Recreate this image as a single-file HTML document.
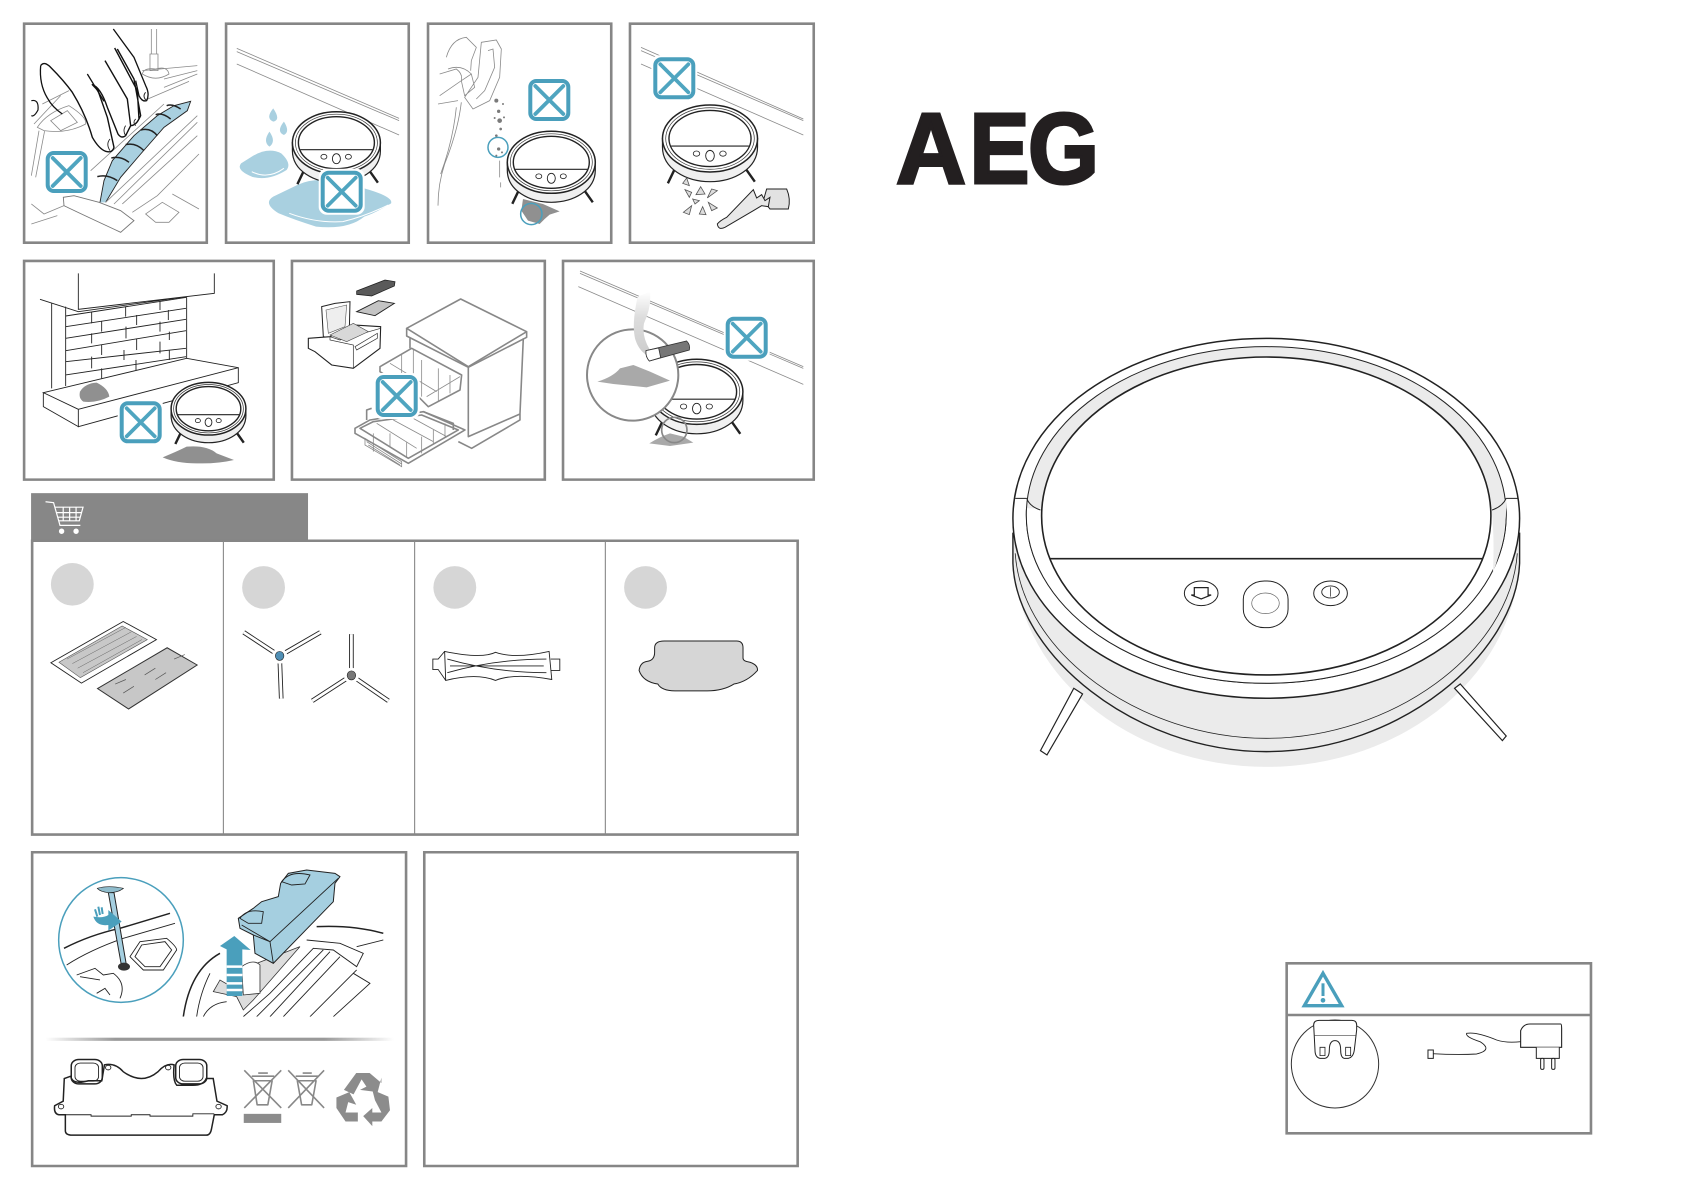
<!DOCTYPE html>
<html><head><meta charset="utf-8"><style>
html,body{margin:0;padding:0;background:#fff}
svg{display:block}
svg *{vector-effect:non-scaling-stroke}
.f{fill:none;stroke:#868686;stroke-width:2.6}
.k{fill:none;stroke:#222;stroke-width:.9}
.K{fill:none;stroke:#222;stroke-width:1.5}
.h{fill:#fff;stroke:#111;stroke-width:1.4;stroke-linejoin:round}
.g{fill:none;stroke:#8a8a8a;stroke-width:.8}
.l{fill:none;stroke:#555;stroke-width:.6}
.G{fill:none;stroke:#888;stroke-width:1.6;stroke-linejoin:round}
.s{fill:#ddd;stroke:#555;stroke-width:.8}
.tl{fill:#a9d0e0;stroke:none}
.b{fill:#a5cfe0;stroke:#222;stroke-width:1}
.d{fill:#909090;stroke:none}
</style></head><body>
<svg width="1684" height="1191" viewBox="0 0 1684 1191" xmlns="http://www.w3.org/2000/svg">
<defs>
<g id="x"><rect x="-23" y="-23" width="46" height="46" rx="8" fill="#fff"/><rect x="-19" y="-19" width="38" height="38" rx="6" fill="#fff" stroke="#4a9fbc" stroke-width="4"/><path d="M-14 -14L14 14M14 -14L-14 14" stroke="#4fa5c0" stroke-width="3.8" stroke-linecap="round" fill="none"/></g>
<g id="r">
<path d="M-39 41.5L-33 29M41.5 40L33 28" stroke="#222" stroke-width="2.4" fill="none"/>
<path d="M-44 0L-44 8C-44 28 -22 40 0 40C22 40 44 28 44 8L44 0Z" fill="#f0f0f0" stroke="#222" stroke-width="1.2"/>
<ellipse cx="0" cy="0" rx="44" ry="31" fill="#fff" stroke="#222" stroke-width="1.5"/>
<ellipse cx="0" cy="0" rx="41" ry="28.5" fill="#fff" stroke="#333" stroke-width=".7"/>
<ellipse cx="0" cy="0" rx="38" ry="26" fill="#fff" stroke="#222" stroke-width="1.4"/>
<path d="M-36 7H36" stroke="#222" stroke-width="1.1"/>
<ellipse cx="-12.5" cy="14" rx="3" ry="2.4" fill="#fff" stroke="#222" stroke-width=".8"/>
<ellipse cx="12" cy="14" rx="3" ry="2.4" fill="#fff" stroke="#222" stroke-width=".8"/>
<ellipse cx="0" cy="16" rx="4" ry="5" fill="#fff" stroke="#222" stroke-width=".9"/>
</g>
<linearGradient id="fd"><stop offset="0" stop-color="#fff"/><stop offset=".2" stop-color="#999"/><stop offset=".8" stop-color="#999"/><stop offset="1" stop-color="#fff"/></linearGradient>
<linearGradient id="sm" x1="0" y1="0" x2="0" y2="1"><stop offset="0" stop-color="#fff"/><stop offset=".4" stop-color="#ddd"/><stop offset="1" stop-color="#ccc"/></linearGradient>
<clipPath id="cb"><rect x="380" y="0" width="680" height="470"/></clipPath>
</defs>

<!-- FRAMES -->
<g transform="scale(.5357,.3333)">
<rect class="f" x="45" y="71" width="341" height="657"/>
<rect class="f" x="422" y="71" width="341" height="657"/>
<rect class="f" x="799" y="71" width="342" height="657"/>
<rect class="f" x="1176" y="71" width="343" height="657"/>
<rect class="f" x="45" y="783" width="466" height="656"/>
<rect class="f" x="545" y="783" width="472" height="656"/>
<rect class="f" x="1051" y="783" width="468" height="656"/>
</g>

<!-- P1 -->
<g transform="translate(24,24) scale(.3333)">
<path class="g" d="M382 15V90M398 15V90M378 90H402V140H378ZM355 150Q395 175 435 150Q430 125 395 135Q360 130 355 150ZM355 140L520 125M420 165L520 140M360 230L495 172M420 190L520 150"/>
<path class="g" d="M40 310Q70 265 135 245Q190 280 185 300Q130 330 60 320ZM55 240L135 200M30 300L110 215M45 320L22 455M62 320L35 460M22 540L60 570L120 545M22 600L100 575M80 290L130 260L160 295L110 320Z"/>
<path class="tl" d="M228 535L240 470L265 410L330 335L400 275L450 245L500 232L490 260L420 310L350 390L290 460L245 535Z"/>
<path class="k" d="M228 535L240 470L265 410L330 335L400 275L450 245L500 232L490 260L420 310L350 390L290 460L245 535"/>
<path class="K" d="M220 458Q250 450 280 470M262 402Q290 395 315 415M305 362Q335 355 360 380M350 318Q380 310 400 335M395 272Q415 265 440 285M428 245Q445 238 470 255"/>
<path class="g" d="M200 440L420 240M245 535L520 275M270 540L520 295M295 540L520 335M325 565L400 515L525 390M365 570L415 535L465 565L435 595L395 595ZM445 510L525 555"/>
<path d="M118 520L120 545Q150 560 290 625L330 590L290 560L225 535L150 515Z" fill="#fff" stroke="#777" stroke-width=".9"/>
<path class="h" d="M50 125Q60 110 80 130Q120 170 145 205Q185 270 205 340Q225 375 245 382Q265 388 270 370L250 280L222 200L205 182Q230 190 250 250L282 330Q292 345 305 335L320 305L310 225L243 110M320 305Q335 305 345 285L340 200L272 72M345 285L350 275L330 165L280 75"/>
<path d="M268 15L330 100L365 185Q378 210 368 230Q355 235 345 215L335 170" fill="none" stroke="#111" stroke-width="1.3"/>
<path d="M50 125Q45 180 70 222Q85 250 115 270M190 150L240 232" fill="none" stroke="#111" stroke-width="1.3"/>
<path d="M22 230Q45 225 42 258Q30 280 22 275" fill="none" stroke="#111" stroke-width="1.2"/>
<path class="k" d="M258 345Q245 360 258 380M305 305Q295 320 305 335M335 285Q325 295 335 305M365 205Q355 215 365 228"/>
</g>
<use href="#x" transform="translate(66.7,172)"/>

<!-- P2 -->
<g transform="scale(.5357,.3333)">
<path class="g" d="M442 145L745 355M442 155L745 362M442 192L745 405"/>
<path class="tl" d="M510 325Q525 360 510 365Q495 355 510 325ZM530 365Q542 395 530 405Q515 395 530 365ZM503 395Q516 425 503 440Q490 425 503 395Z"/>
<path class="tl" d="M470 470Q500 440 525 460Q545 490 535 510Q500 545 470 530Q440 510 450 490Z"/>
<path class="tl" d="M555 555Q600 520 680 565Q735 590 730 610Q700 640 680 650Q650 690 590 680Q550 660 520 640Q490 610 510 590Z"/>
<path d="M470 515Q500 540 530 505M540 640Q590 670 640 665Q680 650 725 615" fill="none" stroke="#fff" stroke-width="1"/>
</g>
<use href="#r" transform="translate(336.4,142.7)"/>
<use href="#x" transform="translate(341.7,191.7)"/>

<!-- P3 -->
<g transform="translate(428,24) scale(.3333)">
<path class="g" d="M55 100Q70 45 115 40L145 70L130 110L128 140M60 135Q100 120 130 150M35 150L85 135Q105 150 100 170L35 215M30 240L90 230M160 55L205 48L220 75L215 160L185 230L135 255L110 220L150 160ZM180 80L195 75L200 130L170 200L145 225M100 170L130 150L140 190L110 215ZM100 235Q90 320 50 420Q30 480 30 545M85 250Q75 350 38 450"/>
<g fill="#7a7a7a"><circle cx="205" cy="230" r="6"/><circle cx="225" cy="240" r="3"/><circle cx="212" cy="262" r="5"/><circle cx="215" cy="290" r="7"/><circle cx="200" cy="282" r="3"/><circle cx="228" cy="280" r="3"/><circle cx="218" cy="315" r="4"/><circle cx="205" cy="335" r="4"/><circle cx="212" cy="375" r="5"/><circle cx="205" cy="395" r="3"/><circle cx="222" cy="385" r="3"/></g>
<path class="g" d="M215 410V460M218 475V490"/>
<path class="d" d="M285 525L345 540L395 562L365 572L350 585L335 600L300 590L280 560Z"/>
</g>
<use href="#r" transform="translate(551.3,162.3)"/>
<g transform="translate(428,24) scale(.3333)" fill="#fff" stroke="#4a9fbc" stroke-width="1.5">
<circle cx="210" cy="370" r="30" fill="none"/>
<circle cx="310" cy="570" r="32" fill="none"/>
</g>
<use href="#x" transform="translate(549.3,100)"/>

<!-- P4 -->
<g transform="translate(630,24) scale(.3333)">
<path class="g" d="M33 70L520 285M33 80L520 290M33 120L520 333"/>
</g>
<use href="#r" transform="translate(710,138.5) scale(1.08)"/>
<use href="#x" transform="translate(674.3,78.3)"/>
<g transform="translate(630,24) scale(.3333)">
<path class="s" d="M158 478L170 462L178 485ZM165 497L185 505L178 520ZM212 488L225 510L198 512ZM245 495L262 500L232 522ZM188 525L208 530L195 540ZM160 565L185 545L178 572ZM235 535L262 552L245 560ZM218 548L228 572L208 570Z"/>
<path d="M410 495L470 495Q483 525 475 555L420 555L400 530Z" fill="#e2e2e2" stroke="#222" stroke-width="1"/>
<path d="M262 600Q270 590 290 580L370 497L380 522L395 512L405 530L420 520L415 548L395 545L370 560L285 610Q265 620 262 600Z" fill="#e8e8e8" stroke="#222" stroke-width="1"/>
</g>

<!-- P5 -->
<g transform="translate(30,260) scale(.3333)">
<path class="k" d="M145 40V148L553 100V40M30 118L145 155L470 110M65 130V385M107 140V378M470 112V295"/>
<path class="k" d="M107 168L470 112M107 200L468 145M107 235L468 178M107 272L468 212M107 305L468 265M107 345L468 290M185 155V190M287 140V170M390 125V150M215 185V215M320 165V195M415 150V180M185 220V250M288 200V235M390 185V215M215 255V285M320 235V270M418 215V240M185 290V325M282 270V300M390 245V280M215 325V355M318 300V330M418 270V300"/>
<path fill="#fff" stroke="#222" stroke-width=".9" d="M40 398L470 295L625 323L145 448ZM40 398V440L145 500V448ZM145 500L625 368V323L145 448Z"/>
<path class="d" d="M150 395Q165 370 200 368Q235 385 238 410Q200 430 160 425Q145 415 150 395Z"/>
<path class="d" d="M398 592Q440 575 470 560Q530 555 560 580L612 600Q560 612 500 610Q440 610 398 592Z"/>
</g>
<use href="#r" transform="translate(208.5,408.7) scale(.85)"/>
<use href="#x" transform="translate(140.7,422.3)"/>

<!-- P6 -->
<g transform="translate(290,260) scale(.3333)">
<path d="M200 93L285 60L315 65L313 78L245 108L200 103Z" fill="#5a5a5a" stroke="#222" stroke-width=".8"/>
<path d="M200 155L265 122L313 130L255 167Z" fill="#c4c4c4" stroke="#222" stroke-width=".9"/>
<path fill="#fff" stroke="#222" stroke-width="1" d="M95 140L135 130L180 125L178 210L120 235L100 230Z"/>
<path d="M108 150L170 135L165 200L115 220Z" fill="#eee" stroke="#555" stroke-width=".6"/>
<path fill="#fff" stroke="#222" stroke-width="1.1" d="M55 235L120 230L190 195L272 200L270 265L190 325L125 315L75 275L55 265Z"/>
<path d="M120 230L150 240L272 205M120 230L120 240L190 255V325M195 260L262 220V235L200 270Z" fill="none" stroke="#333" stroke-width=".7"/>
<path d="M120 225L190 190L235 215L170 245Z" fill="#d8d8d8" stroke="#444" stroke-width=".6"/>
<path class="G" fill="#fff" d="M350 205L512 117L710 215L535 320Z"/>
<path class="G" d="M350 205V228L535 322L710 232V215M535 320V530L690 462L700 235M690 462V480L545 565L505 545M360 235V265"/>
<path class="G" d="M270 320L365 265L515 345L510 390L415 440L385 410L270 335Z"/>
<path class="g" d="M300 310L440 395M335 285V390M395 300V410M445 325V425M480 345V400M510 350L410 410M370 270V350"/>
<path class="G" d="M195 505L240 480L400 455L525 510L355 610L195 520ZM210 505L250 485L395 465L505 510L355 595Z"/>
<path class="g" d="M260 490L380 565M310 480L430 545M360 470L470 530M250 520V575M300 520V560M350 545V590M395 530V580M430 510V550M465 490V530"/>
<path class="g" d="M225 535L335 605V620L225 555ZM230 545L335 612M235 555L330 615"/>
<path class="G" d="M230 480V450L245 445M400 455L490 490V510"/>
</g>
<use href="#x" transform="translate(396.7,396)"/>

<!-- P7 -->
<g transform="translate(570,260) scale(.3333)">
<path class="g" d="M30 33L700 320M30 40L700 325M25 80L700 373"/>
</g>
<use href="#r" transform="translate(696.7,391.8) scale(1.05)"/>
<use href="#x" transform="translate(746.7,337.7)"/>
<g transform="translate(570,260) scale(.3333)">
<circle cx="188" cy="345" r="137" fill="#fff" stroke="#888" stroke-width="2"/>
<path d="M203 110Q185 190 195 235Q205 270 230 285L240 270Q215 230 222 190Q245 140 240 95Z" fill="url(#sm)"/>
<path d="M228 272L350 243Q362 255 358 270L238 303Q226 290 228 272Z" fill="#777" stroke="#333" stroke-width=".8"/>
<path d="M228 272L266 264L272 293L238 303Q226 290 228 272Z" fill="#fff" stroke="#333" stroke-width=".8"/>
<path d="M82 365Q130 350 150 325L190 315L240 335L300 362L230 382L130 372Z" fill="#a9a9a9"/>
<path d="M238 550Q270 530 300 520L340 530L370 548L300 558Z" fill="#a9a9a9"/>
<circle cx="313" cy="510" r="38" fill="none" stroke="#888" stroke-width="1.7"/>
</g>

<!-- ACCESSORIES + BOTTOM -->
<g transform="translate(0,480) scale(.5357,.4534)">
<rect x="58" y="29" width="517" height="106" fill="#878787"/>
<path d="M85 48L100 50L112 100H150M102 60H155L148 90H110M118 60V90M130 60V90M142 60V90M105 72H152M108 82H150" fill="none" stroke="#fff" stroke-width="1.2"/>
<ellipse cx="115" cy="113" rx="5" ry="6" fill="#fff"/><ellipse cx="142" cy="113" rx="5" ry="6" fill="#fff"/>
<rect class="f" x="60" y="134" width="1429" height="648"/>
<path d="M417 134V782M774 134V782M1130 134V782" stroke="#888" stroke-width="1.1" fill="none"/>
<ellipse cx="135" cy="230" rx="40" ry="47" fill="#d6d6d6"/>
<ellipse cx="492" cy="237" rx="40" ry="47" fill="#d6d6d6"/>
<ellipse cx="849" cy="237" rx="40" ry="47" fill="#d6d6d6"/>
<ellipse cx="1205" cy="237" rx="40" ry="47" fill="#d6d6d6"/>
<path class="k" fill="#fff" d="M95 403L230 312L292 352L152 448Z"/>
<path d="M110 402L228 322L275 352L150 436Z" fill="#c8c8c8" stroke="#555" stroke-width=".6"/>
<path d="M125 395L235 325M135 405L245 335M145 415L255 345M155 425L265 352" stroke="#666" stroke-width=".5" fill="none"/>
<path d="M182 460L312 370L368 408L240 505Z" fill="#c7c7c7" stroke="#333" stroke-width="1"/>
<path d="M215 450L235 440M270 430L290 415M230 470L250 455M290 440L310 425M325 395L345 385" stroke="#555" stroke-width=".7" fill="none"/>
<!-- brushes -->
<path d="M522 388L455 336M522 388L598 336M522 388L525 482M656 431V340M656 431L725 487M656 431L583 487" stroke="#222" stroke-width="4.6" fill="none"/>
<path d="M522 388L455 336M522 388L598 336M522 388L525 482M656 431V340M656 431L725 487M656 431L583 487" stroke="#fff" stroke-width="2.8" fill="none"/>
<ellipse cx="522" cy="388" rx="14" ry="17" fill="#fff"/>
<ellipse cx="522" cy="388" rx="8" ry="10" fill="#4f8fb5" stroke="#222" stroke-width=".6"/>
<ellipse cx="656" cy="431" rx="14" ry="17" fill="#fff"/>
<ellipse cx="656" cy="431" rx="8" ry="10" fill="#777" stroke="#222" stroke-width=".6"/>
<!-- roller -->
<path class="k" d="M830 378Q900 395 925 380Q960 395 1025 378L1030 440Q960 425 925 442Q890 425 832 442ZM830 378L818 395H808V418H818L832 442M1028 395H1045V420H1028M835 395Q925 425 1020 425M835 425Q925 395 1020 395M840 410L1015 410"/>
<!-- mop -->
<path d="M1222 370Q1222 355 1240 355H1375Q1387 355 1387 370V393Q1387 400 1400 402Q1415 408 1414 420Q1395 445 1370 450Q1350 465 1320 465H1260Q1235 465 1228 450Q1200 445 1193 420Q1195 402 1208 400Q1222 398 1222 380Z" fill="#d6d6d6" stroke="#222" stroke-width="1"/>

<rect class="f" x="60" y="821" width="698" height="692"/>
<rect class="f" x="792" y="821" width="697" height="692"/>
<rect x="85" y="1230" width="650" height="7" fill="url(#fd)"/>
<!-- battery outline -->
<path class="K" fill="#fff" d="M122 1400V1435Q122 1445 135 1445H385Q393 1445 395 1430L400 1400H415Q425 1395 424 1380L405 1370L398 1320H385Q380 1335 360 1335H330Q322 1325 325 1290Q310 1285 295 1305Q265 1335 230 1305Q215 1285 195 1290L190 1325H165Q135 1335 132 1315L120 1320L118 1370L102 1380Q100 1398 110 1400Z"/>
<path class="k" d="M122 1400H170V1403H245V1400H280V1403H360V1398H400"/>
<rect x="133" y="1278" width="58" height="54" rx="14" class="K" fill="#fff"/><rect x="140" y="1286" width="44" height="40" rx="10" class="k"/>
<rect x="328" y="1278" width="58" height="54" rx="14" class="K" fill="#fff"/><rect x="335" y="1286" width="44" height="40" rx="10" class="k"/>
<ellipse cx="202" cy="1296" rx="5" ry="5" class="k"/><ellipse cx="314" cy="1296" rx="5" ry="5" class="k"/><ellipse cx="114" cy="1382" rx="5" ry="5" class="k"/><ellipse cx="408" cy="1382" rx="5" ry="5" class="k"/>
<!-- WEEE -->
<path class="G" d="M456 1302L525 1385M525 1302L456 1385M538 1302L605 1385M605 1302L538 1385"/>
<path class="G" d="M473 1325H508L500 1378H480ZM470 1315H512M482 1308H500M555 1325H590L582 1378H563ZM552 1315H594M565 1308H582"/>
<rect x="455" y="1398" width="70" height="20" fill="#8c8c8c"/>
<!-- recycle -->
<path fill="#8c8c8c" d="M642 1345L665 1308H690L712 1330L712 1318L705 1350L672 1345L684 1338L675 1322L660 1355ZM628 1362L652 1350L665 1378L650 1372L645 1395H668V1415H645L628 1385ZM695 1345L725 1360L728 1390L712 1415H695V1425L678 1403L695 1385V1395H712L700 1368Z"/>
</g>

<!-- BOTTOM ILLUSTRATION -->
<g transform="translate(40,860) scale(.3333)">
<circle cx="243" cy="240" r="187" fill="#fff" stroke="#4a9fbc" stroke-width="1.5"/>
<path class="K" d="M72 265Q150 225 240 205L390 160"/>
<path class="k" d="M80 315Q150 270 250 235L405 190M270 290L300 245L380 235Q410 260 410 270L370 330L310 330ZM285 290L305 255L375 245L395 270L360 320L315 320ZM110 345L165 325L190 345L220 340Q260 370 240 415M170 400L195 385L210 405M120 350L180 360"/>
<path class="b" d="M205 98L222 98L260 320L245 320Z"/>
<ellipse cx="252" cy="320" rx="18" ry="12" fill="#333"/>
<path d="M172 85Q205 75 250 85Q235 98 205 98Q180 95 172 85Z" fill="#8fbccc" stroke="#222" stroke-width=".7"/>
<path d="M160 170Q190 175 205 165L205 150L245 185L205 212L205 195Q170 200 160 170Z" fill="#4a9fbc"/>
<path d="M165 148L172 170M175 140L180 165M185 142L188 162" stroke="#4a9fbc" stroke-width="2" fill="none"/>
<g clip-path="url(#cb)">
<path class="K" d="M430 470Q450 330 540 280M830 200Q940 195 1030 220"/>
<path class="k" d="M470 470Q480 400 510 340M490 470Q510 430 560 425M800 240L900 250L970 280L950 320L880 270L820 265L690 400L610 470M650 470L850 270M690 470L870 275M730 470L900 290M810 470L950 330M880 470L990 370L940 340M950 260L1030 240"/>
<path d="M650 310L780 260L640 420L610 450L590 410L520 395L540 360L600 395L640 400Z" fill="#ddd" stroke="#333" stroke-width=".8"/>
<path d="M605 320Q640 295 660 315V400L610 405Z" fill="#fff" stroke="#333" stroke-width=".8"/>
</g>
<path d="M583 228L632 270L607 268V408H560V268L540 258Z" fill="#4a9fbc"/>
<path d="M560 320H607M560 345H607M560 370H607M560 390H607" stroke="#fff" stroke-width="2.5" fill="none"/>
<path class="b" d="M595 175L640 145L665 125L715 110L722 70L745 40L800 30L885 40L900 50L885 70L880 125L700 310L645 280L640 225L600 205Z"/>
<path class="k" d="M605 195L690 245L895 55M690 245L700 310M640 225L690 245"/>
<path class="k" d="M600 175Q620 145 670 155L665 190L625 190ZM725 65Q750 30 810 45L795 72L755 75Z"/>
</g>

<!-- LOGO -->
<g font-family="'Liberation Sans',sans-serif" font-weight="700" font-size="100" fill="#231f20" stroke="#231f20" stroke-width="3">
<text x="896" y="183" textLength="70" lengthAdjust="spacingAndGlyphs">A</text>
<text x="969.5" y="183" textLength="60" lengthAdjust="spacingAndGlyphs">E</text>
<text x="1028" y="183" textLength="71" lengthAdjust="spacingAndGlyphs">G</text>
</g>

<!-- MAIN ROBOT -->
<g transform="translate(980,320) scale(.3827,.3333)">
<path d="M88 700A660 640 0 0 0 1410 700Z" fill="#ebebeb"/>
<path d="M245 1105L268 1122L175 1305L158 1292Z" fill="#fff" stroke="#222" stroke-width="1.2"/>
<path d="M1255 1092L1375 1248L1365 1262L1240 1105Z" fill="#fff" stroke="#222" stroke-width="1.2"/>
<path d="M86 640V730C95 1000 400 1295 748 1295C1100 1295 1400 1000 1410 730V640Z" fill="#ebebeb" stroke="#222" stroke-width="1.4"/>
<path d="M92 700C110 1000 420 1255 748 1255C1075 1255 1385 1000 1404 700" fill="none" stroke="#222" stroke-width=".8"/>
<ellipse cx="748" cy="595" rx="662" ry="540" fill="#fff" stroke="#222" stroke-width="1.5"/>
<ellipse cx="748" cy="585" rx="627" ry="505" fill="#ebebeb" stroke="#222" stroke-width="1"/>
<clipPath id="lo"><rect x="0" y="565" width="1500" height="800"/></clipPath>
<ellipse cx="748" cy="585" rx="627" ry="505" fill="#fff" stroke="#222" stroke-width="1" clip-path="url(#lo)"/>
<path d="M1337 570L1375 535Q1378 640 1340 760Q1345 660 1337 570Z" fill="#ebebeb"/>
<ellipse cx="748" cy="588" rx="587" ry="477" fill="#fff" stroke="#222" stroke-width="1.6"/>
<path d="M92 535H122M1375 535H1405" stroke="#222" stroke-width="1" fill="none"/>
<path d="M122 535Q130 560 158 570M1375 535Q1365 560 1338 570" stroke="#222" stroke-width="1" fill="none"/>
<path d="M183 716H1313" stroke="#222" stroke-width="1.6"/>
<ellipse cx="578" cy="820" rx="44" ry="37" fill="#fff" stroke="#222" stroke-width="1"/>
<path d="M560 803H596V825H604L578 837L552 825H560Z" fill="#fff" stroke="#222" stroke-width="1.2"/>
<rect x="688" y="783" width="117" height="140" rx="55" fill="#fff" stroke="#222" stroke-width="1"/>
<ellipse cx="746" cy="850" rx="36" ry="31" fill="none" stroke="#666" stroke-width=".7"/>
<ellipse cx="916" cy="820" rx="44" ry="37" fill="#fff" stroke="#222" stroke-width="1"/>
<ellipse cx="916" cy="816" rx="23" ry="18" fill="none" stroke="#222" stroke-width=".9"/>
<path d="M916 802V830" stroke="#222" stroke-width=".7"/>
</g>

<!-- WARNING BOX -->
<g transform="translate(1270,950) scale(.3333)">
<rect class="f" x="50" y="40" width="913" height="510"/>
<path d="M50 195H963" stroke="#868686" stroke-width="2.4"/>
<path d="M159 70L215 167H103Z" fill="none" stroke="#4a9fbc" stroke-width="3.4"/>
<path d="M159 100V138" stroke="#4a9fbc" stroke-width="3"/><circle cx="159" cy="151" r="7" fill="#4a9fbc"/>
<ellipse cx="195" cy="342" rx="131" ry="132" fill="#fff" stroke="#333" stroke-width="1"/>
<path d="M131 225Q131 211 148 211H245Q260 211 260 225V240L253 300Q250 322 235 325H222Q212 322 212 300Q212 272 195 272Q178 272 178 300Q178 322 165 325H150Q135 322 135 300Z" fill="#fff" stroke="#222" stroke-width="1"/>
<path d="M133 256H258" stroke="#444" stroke-width=".6"/>
<rect x="150" y="292" width="15" height="25" fill="#fff" stroke="#222" stroke-width=".8"/><rect x="227" y="292" width="15" height="25" fill="#fff" stroke="#222" stroke-width=".8"/>
<path class="k" d="M487 311Q560 315 620 312Q670 300 630 275Q585 260 590 250Q620 245 680 270Q710 280 752 275"/>
<path d="M474 300H490V325H474Z" fill="#fff" stroke="#222" stroke-width="1"/>
<path d="M752 242Q760 222 780 222H872Q875 222 875 235V292H752Z" fill="#fff" stroke="#222" stroke-width="1.1"/>
<path d="M799 292V325H868V292" fill="#fff" stroke="#222" stroke-width="1"/>
<rect x="812" y="325" width="10" height="33" rx="4" fill="#fff" stroke="#222" stroke-width="1"/>
<rect x="845" y="325" width="10" height="33" rx="4" fill="#fff" stroke="#222" stroke-width="1"/>
</g>
</svg>
</body></html>
